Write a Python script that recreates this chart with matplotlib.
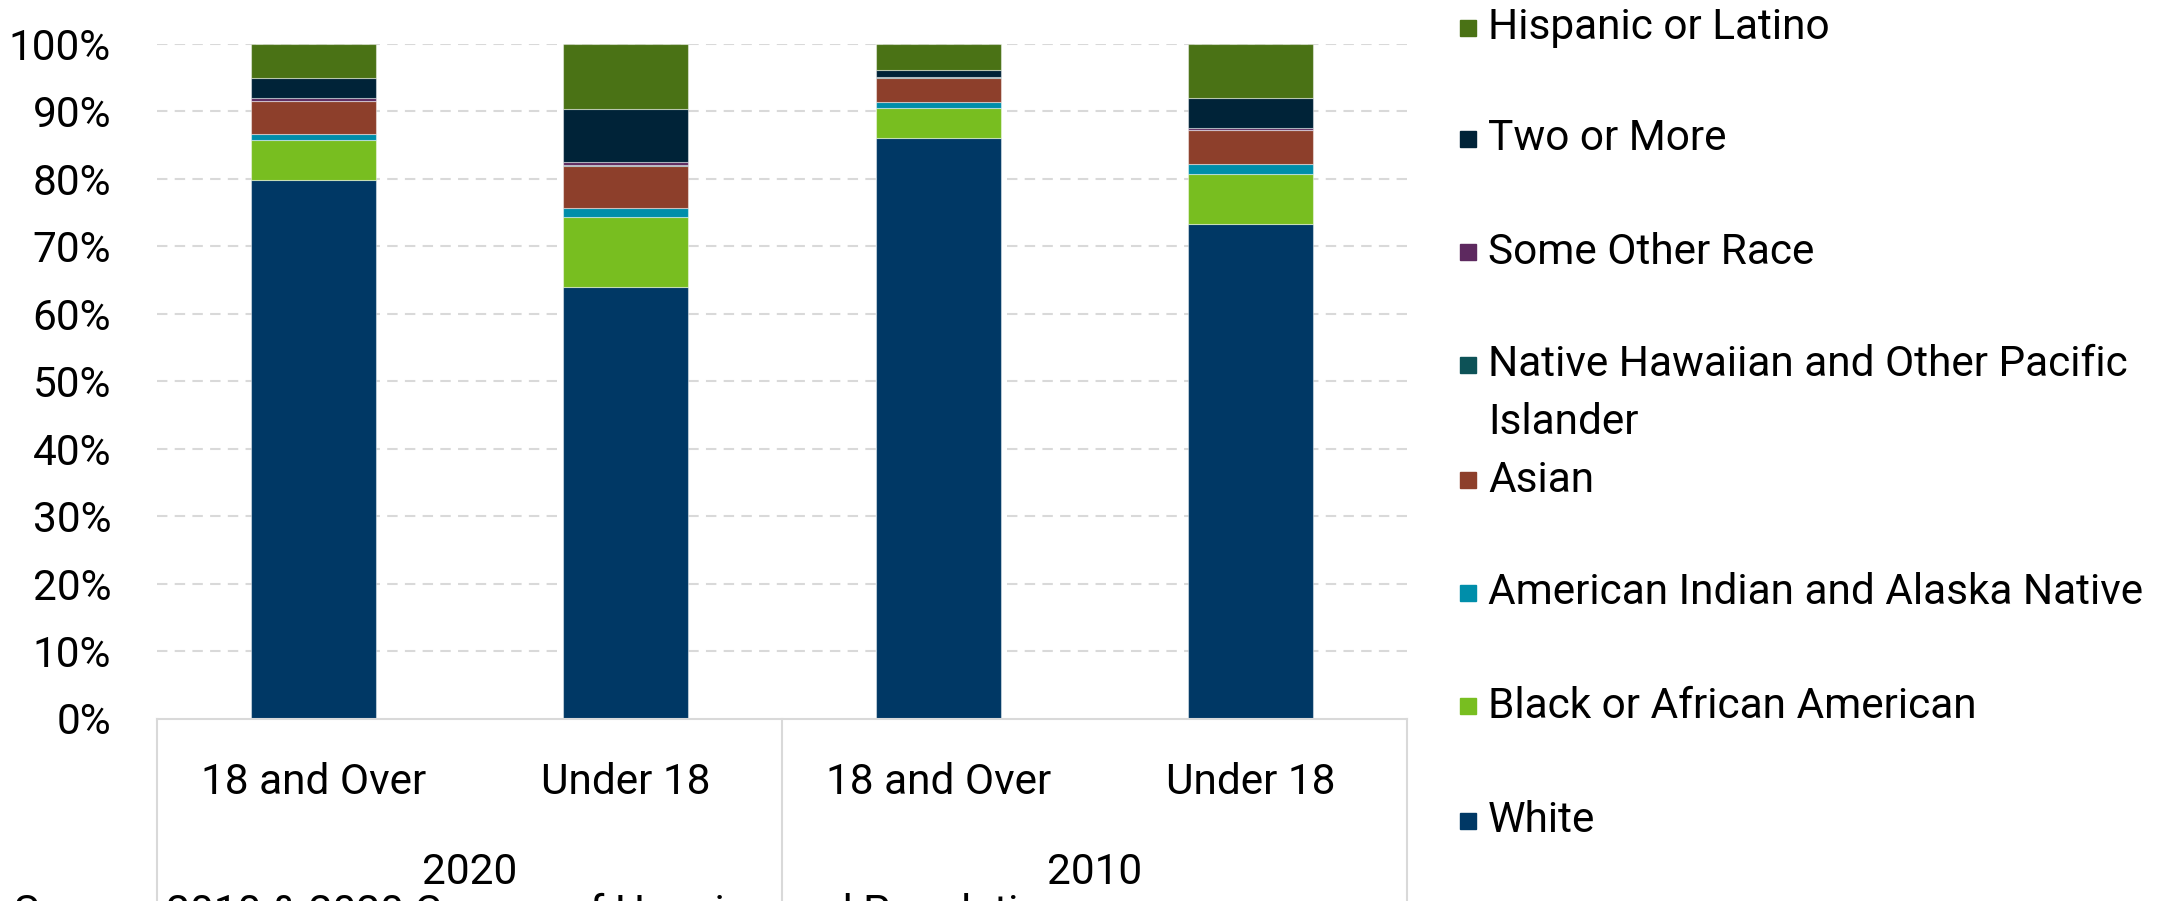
import matplotlib
matplotlib.use("Agg")
import matplotlib.pyplot as plt
from matplotlib.patches import Rectangle
from matplotlib.lines import Line2D
import numpy as np

plt.rcParams['font.family'] = ['Roboto', 'DejaVu Sans']

# ---- data ----
categories = ["18 and Over", "Under 18", "18 and Over", "Under 18"]
years = ["2020", "2010"]
series_names = ["White", "Black or African American", "American Indian and Alaska Native",
                "Asian", "Native Hawaiian and Other Pacific Islander", "Some Other Race",
                "Two or More", "Hispanic or Latino"]
white = [79.9, 64.0, 86.1, 73.3]
black = [5.9, 10.4, 4.35, 7.45]
aian = [0.8, 1.3, 0.9, 1.4]
asian = [4.95, 6.2, 3.65, 5.05]
nhpi = [0.05, 0.1, 0.05, 0.05]
other = [0.35, 0.45, 0.1, 0.25]
two_more = [3.0, 7.85, 1.05, 4.55]
hispanic = [5.05, 9.7, 3.8, 7.95]
yticks = [0, 10, 20, 30, 40, 50, 60, 70, 80, 90, 100]
source_text = "Source: 2010 & 2020 Census of Housing and Population"

colors = ["#003865", "#78BE20", "#008EAA", "#8D3F2B", "#0D5257", "#5D295F", "#002338", "#4A7215"]
series = [white, black, aian, asian, nhpi, other, two_more, hispanic]

FS = 30.5
W, H = 2165, 901
fig = plt.figure(figsize=(W / 100, H / 100), dpi=100)
ax_left, ax_right, ax_top, ax_bot = 157, 1407, 44, 718.5
ax = fig.add_axes([ax_left / W, (H - ax_bot) / H, (ax_right - ax_left) / W, (ax_bot - ax_top) / H])

x = np.arange(len(categories))
bottom = np.zeros(len(categories))
for vals, c in zip(series, colors):
    ax.bar(x, vals, 0.4, bottom=bottom, color=c, edgecolor=(1, 1, 1, 0.45), linewidth=0.8, zorder=3)
    bottom += np.array(vals)

ax.set_xlim(-0.5, len(categories) - 0.5)
ax.set_ylim(0, 100)
ax.set_yticks(yticks)
ax.set_yticklabels([f"{v}%" for v in yticks], fontsize=FS, color="#000000")
ax.tick_params(axis='y', length=0, pad=33)
ax.set_xticks([])
for s in ax.spines.values():
    s.set_visible(False)
for v in yticks[1:]:
    ax.axhline(v, color="#d9d9d9", linestyle=(0, (5, 3.5)), linewidth=1.5, zorder=1)

# category axis box
fx = lambda px: px / W
fy = lambda py: (H - py) / H
fig.add_artist(Line2D([fx(ax_left), fx(ax_right)], [fy(719), fy(719)], color="#d9d9d9", linewidth=1.5))
for px in [157, 782, 1407]:
    fig.add_artist(Line2D([fx(px), fx(px)], [fy(719), fy(905)], color="#d9d9d9", linewidth=1.5))

for xi, lab in zip(x, categories):
    px = ax_left + (xi + 0.5) * (ax_right - ax_left) / len(categories)
    fig.text(fx(px), fy(783), lab, ha='center', va='center', fontsize=FS)
for gi, yr in enumerate(years):
    px = ax_left + (gi + 0.5) * (ax_right - ax_left) / len(years)
    fig.text(fx(px), fy(873), yr, ha='center', va='center', fontsize=FS)

# legend (drawn top-down in reverse series order)
leg_y = [821, 706, 593, 480, 365, 252, 139, 28]
for name, c, py in zip(series_names, colors, leg_y):
    fig.add_artist(Rectangle((fx(1460), fy(py + 8)), 16 / W, 16 / H, color=c, transform=fig.transFigure))
    if name.startswith("Native Hawaiian"):
        fig.text(fx(1488), fy(py), "Native Hawaiian and Other Pacific", ha='left', va='center', fontsize=FS)
        fig.text(fx(1488), fy(py + 58), "Islander", ha='left', va='center', fontsize=FS)
    else:
        fig.text(fx(1488), fy(py), name, ha='left', va='center', fontsize=FS)

fig.text(fx(14), fy(925), source_text, ha='left', va='baseline', fontsize=FS)

fig.savefig("out.png", dpi=100)
